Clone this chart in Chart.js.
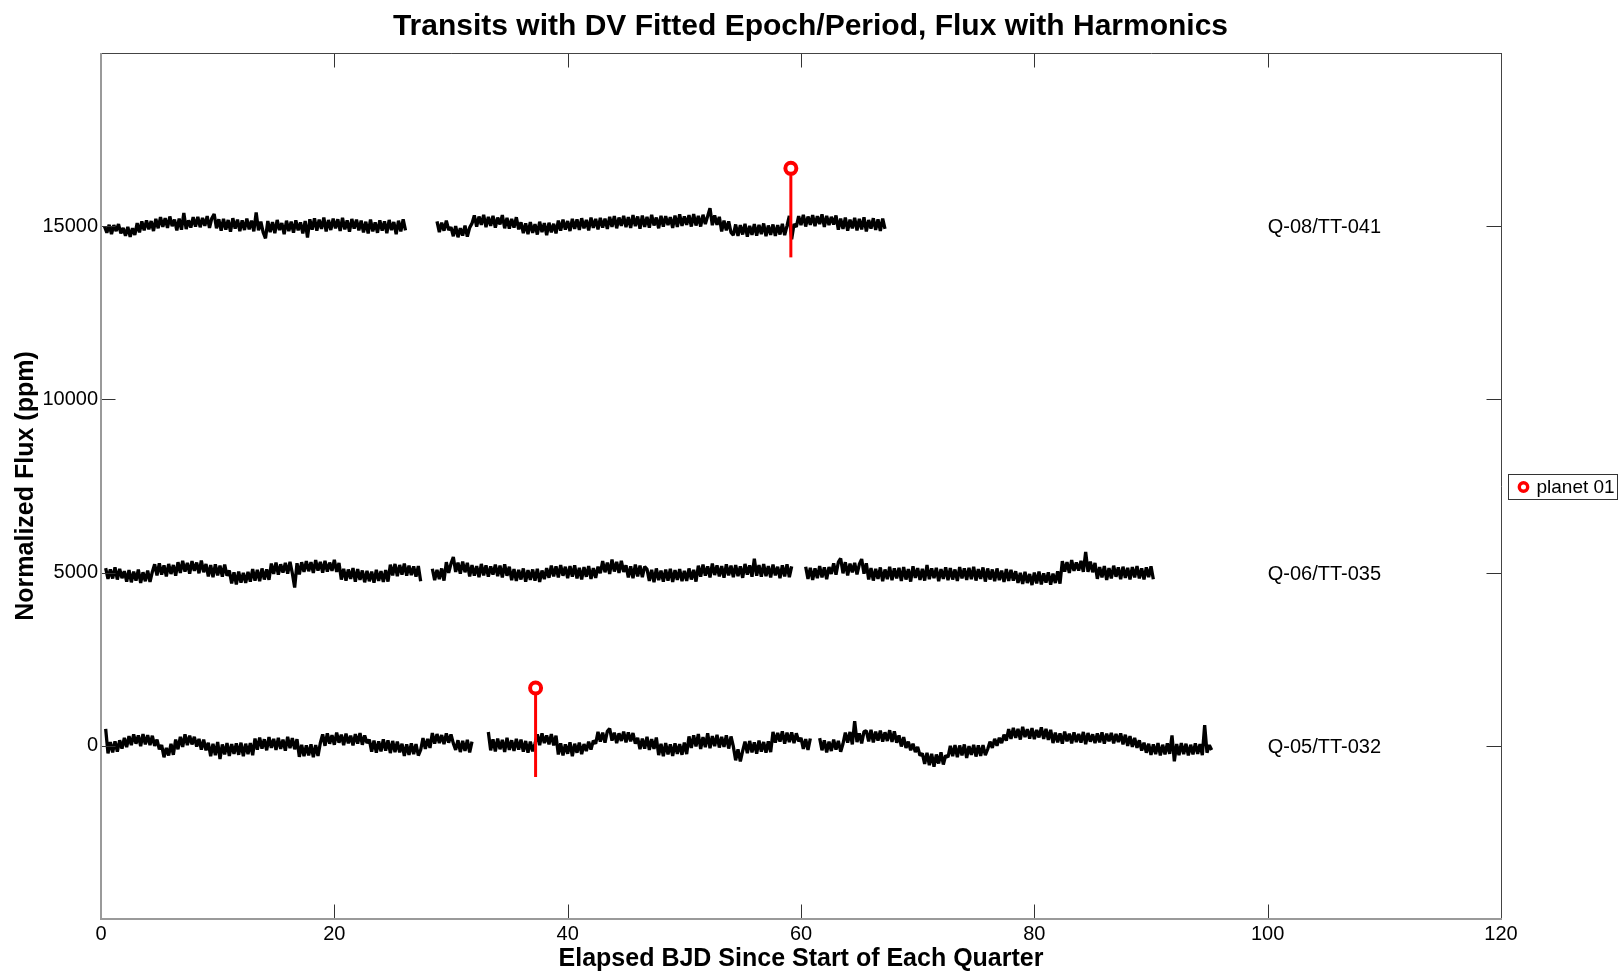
<!DOCTYPE html>
<html><head><meta charset="utf-8">
<script src="https://cdn.jsdelivr.net/npm/chart.js@4.4.1/dist/chart.umd.min.js"></script>
<style>html,body{margin:0;padding:0;background:#fff;}</style>
</head><body>
<canvas id="c" width="1621" height="973"></canvas>
<script>
// ---------------- DATA ----------------
const STEP = 0.2; // days between flux samples in the arrays below
const quarterLabels = ["Q-08/TT-041", "Q-06/TT-035", "Q-05/TT-032"];
const quarterOffsets = [15000, 5000, 0];
const xTicks = [0, 20, 40, 60, 80, 100, 120];
const yTicks = [0, 5000, 10000, 15000];

// Q-08: segment start times (days) and relative flux (ppm)
const q08Starts = [0.3, 28.8];
const q08Seg1 = [
 -10,-190,40,-230,30,-140,60,-210,-50,-280, -20,-310,-60,-250,90,-180,140,-120,170,-90,
 150,-140,210,-60,260,-20,230,-50,280,0, 190,-120,220,-100,380,-80,170,-40,260,-10,
 270,-30,240,10,290,-50,230,350,-60,200, -130,210,-100,180,-160,230,-70,190,-140,170,
 -110,220,-90,160,-150,400,-120,130,-180,-350, 150,-170,120,-200,180,-110,90,-230,160,-140,
 130,-190,170,-120,110,-210,150,-330,200,-100, 230,-130,190,-80,250,-150,180,-110,220,-60,
 200,-140,240,-90,170,-160,210,-70,190,-120, 160,-180,130,-210,190,-150,110,-190,170,-130,
 140,-200,180,-110,120,-230,160,-150,200,-120];
const q08Seg2 = [
 140,-170,100,-130,160,-110,-30,-290,0,-320, -60,-270,20,-300,-40,80,310,-10,280,40,
 330,-30,270,10,300,-40,250,50,320,-60, 240,-70,210,-40,260,-90,110,-200,80,-230,
 120,-190,60,-240,130,-170,90,-260,100,-180, 70,-210,160,-130,190,-100,150,-140,210,-80,
 200,-110,230,-60,180,-120,250,-50,210,-90, 240,-40,220,-80,270,-20,290,-60,250,10,
 300,-30,260,-50,320,0,280,-70,310,-20, 270,-40,330,20,250,-60,300,-10,290,30,
 260,-50,310,-20,340,10,280,40,320,-10, 350,20,300,-10,330,60,290,520,30,310,
 40,270,-150,160,-120,140,-180,-260,50,-280, 30,-240,70,-300,10,-250,60,-270,40,-230,
 80,-290,20,-250,50,-280,30,-240,70,-260, 10,300,-380,60,-20,290,30,330,-10,280,
 40,320,0,290,60,340,-20,300,30,270, 50,310,-100,220,-80,250,-130,190,-60,240,
 -120,210,-90,260,-150,180,-70,230,-110,200, -140,220,-80];

// Q-06
const q06Starts = [0.4, 28.4, 60.4];
const q06Seg1 = [
 130,-180,90,-170,150,-200,110,-160,40,-260, 70,-280,30,-230,90,-300,10,-250,60,-270,
 20,240,-80,270,-60,210,-110,250,-40,220, -90,300,-10,340,30,280,-30,330,50,290,
 -20,350,10,250,-110,220,-130,240,-80,200, -120,230,-90,60,-310,10,-340,30,-290,-10,
 -300,20,-260,100,-230,80,-250,120,-200,90, -210,260,-40,290,-60,240,0,280,-30,310,
 -20,-430,270,-50,300,20,330,40,300,-10, 360,60,310,0,340,30,290,50,370,20,
 280,-200,110,-230,90,-180,130,-260,100,-210, 60,-280,50,-250,30,-290,80,-240,40,-270,
 70,-260,230,-80,250,-100,220,-60,260,-90, 200,-70,180,-120,190,-250];
const q06Seg2 = [
 110,-220,80,-190,120,-230,300,-10,260,450, 20,290,-30,320,10,280,-110,220,-90,190,
 -130,250,-80,210,-120,180,-60,230,-100,200, -140,240,-90,170,-220,100,-240,80,-200,120,
 -260,70,-210,90,-230,110,-270,60,-190,130, -150,200,-110,180,-140,220,-90,170,-160,190,
 -120,210,-170,140,-200,160,-120,190,-180,130, -150,170,-20,330,10,290,-40,380,30,310,
 -10,340,20,210,-140,180,-160,230,-110,200, -130,170,100,-240,80,-280,120,-220,60,-260,
 90,-230,110,-270,70,-210,100,-250,50,-240, 120,-200,80,-260,200,-120,230,-90,180,-140,
 260,-70,210,-110,190,-150,240,-80,200,-130, 220,-100,180,-150,250,-60,210,-120,400,-90,
 220,-120,250,-100,190,-140,230,-80,170,-160, 210,-110,240,-130,180];
const q06Seg3 = [
 170,-180,140,-210,120,-160,190,-140,150,-190, 160,-40,270,-60,300,410,-20,300,-80,260,
 10,280,-50,240,390,-30,270,-200,130,-230, 110,-180,150,-250,90,-190,170,-220,120,-170,
 140,-240,160,-200,100,-260,180,-150,130,-210, 110,-230,220,-190,120,-160,140,-250,100,-180,
 150,-220,130,-200,90,-240,160,-170,120,-210, 140,-190,170,-230,100,-180,150,-260,120,-200,
 90,-250,120,-220,60,-270,100,-240,80,-230, 40,-300,-10,-330,20,-300,-40,-360,0,-310,
 30,-340,-20,-290,10,-350,-30,-300,40,-320, 330,30,300,-10,360,50,290,60,340,20,
 600,20,320,10,280,-180,160,-140,190,-210, 130,-170,200,-120,150,-190,170,-150,140,-200,
 160,-140,190,-170,120,-200,150,-130,180,-190];

// Q-05
const q05Starts = [0.4, 33.2, 61.6];
const q05Seg1 = [
 490,-220,110,-190,130,-170,160,-80,230,-40, 280,20,330,60,300,-10,340,40,310,20,
 290,0,180,-100,20,-330,-60,-280,60,-260, 180,-100,260,-30,330,20,290,40,260,-20,
 200,-110,180,-130,90,-300,60,-270,110,-380, 40,-250,80,-290,50,-230,70,-260,90,-300,
 60,-240,80,-270,210,-110,240,-80,190,-130, 250,-60,200,-120,230,-90,180,-140,260,-70,
 220,-100,190,-320,30,-300,10,-280,40,-330, 20,-290,80,330,0,360,60,310,30,380,
 90,320,20,350,70,290,10,340,60,370, 30,300,80,180,-170,150,-200,130,-160,190,
 -140,160,-210,140,-180,120,-190,60,-290,40, -260,70,-240,50,-280,-120,220,-90,200,-60,
 370,60,340,80,310,50,360,90,330,70, -120,160,-180,140,-150,170,-190,120];
const q05Seg2 = [
 400,-130,190,-160,210,-100,170,-180,230,-120, 160,-150,200,-110,180,-170,140,-200,120,-160,
 60,330,20,360,80,300,40,340,10,290, -250,70,-280,40,-230,100,-300,60,-200,90,
 -240,50,-150,120,-110,150,60,400,120,380, 90,420,500,150,380,80,360,140,410,100,
 390,130,370,60,230,-100,210,-80,260,-120, 190,-90,240,-270,60,-300,80,-250,40,-290,
 70,-230,50,-260,90,-240,270,-60,300,-20, 340,-90,250,-40,360,-70,280,-10,320,-50,
 260,-30,300,-80,270,-20,-420,-100,-450,-150, 120,-210,140,-190,100,-230,150,-170,110,-200,
 130,-180,400,90,370,120,420,60,380,110, 390,80,360,130,230,-90,190,-120,210];
const q05Seg3 = [
 220,-130,160,-190,120,-150,180,-110,140,-170, 60,380,90,400,40,710,110,360,70,410,
 430,130,460,100,410,150,440,120,390,140, 450,110,420,90,300,-20,250,-60,120,-130,
 60,-180,-30,-280,-220,-520,-200,-560,-230,-600, -250,-510,-190,-540,-280,-330,0,-300,20,-330,
 10,-280,40,-350,-10,-260,30,-310,10,-290, 20,-270,-100,120,-60,200,0,230,80,320,
 150,480,200,520,230,490,180,550,250,480, 210,510,190,460,240,530,200,490,170,460,
 80,380,100,360,60,410,130,350,70,390, 110,340,90,400,50,370,120,330,80,360,
 100,390,60,350,130,370,70,340,110,360, 40,320,0,280,-30,230,-60,160,-140,90,
 -200,60,-260,40,-240,80,-280,30,-250,70, -230,300,-450,50,-270,80,-240,60,-280,30,
 -250,70,-230,50,-270,600,-200,20,-120];

// Planet 01 transit markers (time, quarter offset, stem extent relative to offset)
const planetLabel = "planet 01";
const transitTimes = [59.13, 37.25];
const transitOffsets = [15000, 0];
const stemLow = [-900, -900];
const stemHigh = [1670, 1670];

// ---------------- BUILD ----------------
function buildSeries(starts, segs, offset) {
  const pts = [];
  segs.forEach((seg, k) => {
    if (k > 0) pts.push({x: starts[k] - STEP / 2, y: null});
    seg.forEach((v, i) => pts.push({x: +(starts[k] + i * STEP).toFixed(3), y: offset + v}));
  });
  return pts;
}
const fluxSets = [
  buildSeries(q08Starts, [q08Seg1, q08Seg2], quarterOffsets[0]),
  buildSeries(q06Starts, [q06Seg1, q06Seg2, q06Seg3], quarterOffsets[1]),
  buildSeries(q05Starts, [q05Seg1, q05Seg2, q05Seg3], quarterOffsets[2])
];

const RED = '#ff0000';
const datasets = [];
datasets.push({
  label: planetLabel,
  data: transitTimes.map((t, j) => ({x: t, y: transitOffsets[j] + stemHigh[j]})),
  showLine: false, pointRadius: 5.5, pointBorderWidth: 4,
  pointBorderColor: RED, pointBackgroundColor: '#ffffff', pointHoverRadius: 5.5
});
transitTimes.forEach((t, j) => {
  datasets.push({
    label: '_stem' + j,
    data: [{x: t, y: transitOffsets[j] + stemLow[j]}, {x: t, y: transitOffsets[j] + stemHigh[j]}],
    borderColor: RED, borderWidth: 3, pointRadius: 0, fill: false
  });
});
fluxSets.forEach((d, k) => {
  datasets.push({
    label: quarterLabels[k], data: d, borderColor: '#000000', borderWidth: 3.3,
    pointRadius: 0, spanGaps: false, tension: 0, borderJoinStyle: 'bevel', fill: false
  });
});

const FONT = "'Liberation Sans', Arial, Helvetica, sans-serif";

const decorPlugin = {
  id: 'decor',
  afterDatasetsDraw(chart) {
    const {ctx, chartArea: a, scales: {x, y}} = chart;
    ctx.save();
    ctx.strokeStyle = '#333333'; ctx.lineWidth = 1;
    const TL = 14.5;
    xTicks.forEach(v => {
      const px = Math.round(x.getPixelForValue(v)) + 0.5;
      ctx.beginPath(); ctx.moveTo(px, a.bottom); ctx.lineTo(px, a.bottom - TL); ctx.stroke();
      ctx.beginPath(); ctx.moveTo(px, a.top); ctx.lineTo(px, a.top + TL); ctx.stroke();
    });
    yTicks.forEach(v => {
      const py = Math.round(y.getPixelForValue(v)) + 0.5;
      ctx.beginPath(); ctx.moveTo(a.left, py); ctx.lineTo(a.left + TL, py); ctx.stroke();
      ctx.beginPath(); ctx.moveTo(a.right, py); ctx.lineTo(a.right - TL, py); ctx.stroke();
    });
    ctx.strokeStyle = '#444444'; ctx.lineWidth = 1;
    ctx.beginPath(); ctx.moveTo(a.left, a.top + 0.5); ctx.lineTo(a.right + 0.5, a.top + 0.5);
    ctx.lineTo(a.right + 0.5, a.bottom); ctx.stroke();
    ctx.strokeStyle = '#9a9a9a'; ctx.lineWidth = 2;
    ctx.beginPath(); ctx.moveTo(a.left, a.top); ctx.lineTo(a.left, a.bottom); ctx.lineTo(a.right + 1, a.bottom); ctx.stroke();
    ctx.restore();
  },
  afterDraw(chart) {
    const {ctx, chartArea: a, scales: {x, y}} = chart;
    ctx.save();
    ctx.fillStyle = '#000'; ctx.font = '20px ' + FONT;
    ctx.textAlign = 'left'; ctx.textBaseline = 'middle';
    quarterLabels.forEach((t, k) => {
      ctx.fillText(t, x.getPixelForValue(100), y.getPixelForValue(quarterOffsets[k]) + 1.5);
    });
    const ds = chart.data.datasets[0];
    const bx = a.right + 7.5, bw = 109, bh = 25;
    const by = Math.round((a.top + a.bottom) / 2 - bh / 2) + 0.5;
    ctx.fillStyle = '#fff'; ctx.fillRect(bx, by, bw, bh);
    ctx.strokeStyle = '#333'; ctx.lineWidth = 1; ctx.strokeRect(bx, by, bw, bh);
    ctx.beginPath(); ctx.arc(bx + 15, by + bh / 2, 4.2, 0, Math.PI * 2);
    ctx.fillStyle = ds.pointBackgroundColor; ctx.fill();
    ctx.strokeStyle = ds.pointBorderColor; ctx.lineWidth = 3.4; ctx.stroke();
    ctx.fillStyle = '#000'; ctx.font = '19px ' + FONT; ctx.textBaseline = 'middle';
    ctx.fillText(ds.label, bx + 28, by + bh / 2 + 1);
    ctx.restore();
  }
};

new Chart(document.getElementById('c'), {
  type: 'line',
  data: {datasets},
  plugins: [decorPlugin],
  options: {
    responsive: false, animation: false, events: [],
    layout: {padding: {left: 0, right: 0, top: 0, bottom: 0}},
    plugins: {
      legend: {display: false}, tooltip: {enabled: false},
      title: {display: true, text: 'Transits with DV Fitted Epoch/Period, Flux with Harmonics',
        color: '#000', font: {family: FONT, size: 30, weight: 'bold'}, padding: {top: 9, bottom: 8}}
    },
    scales: {
      x: {
        type: 'linear', min: 0, max: 120,
        afterBuildTicks: s => { s.ticks = xTicks.map(v => ({value: v})); },
        afterFit: s => { s.height = 54; },
        grid: {display: false, drawTicks: false}, border: {display: false},
        ticks: {padding: 3, color: '#000', maxRotation: 0, autoSkip: false,
          font: {family: FONT, size: 20}, callback: v => String(v)},
        title: {display: true, text: 'Elapsed BJD Since Start of Each Quarter', color: '#000',
          font: {family: FONT, size: 25, weight: 'bold', lineHeight: 1.1}, padding: {top: 0, bottom: 0}}
      },
      y: {
        type: 'linear', min: -5000, max: 20000,
        afterBuildTicks: s => { s.ticks = yTicks.map(v => ({value: v})); },
        afterFit: s => { s.width = 101; },
        grid: {display: false, drawTicks: false}, border: {display: false},
        ticks: {padding: 3, color: '#000', autoSkip: false,
          font: {family: FONT, size: 20}, callback: v => String(v)},
        title: {display: true, text: 'Normalized Flux (ppm)', color: '#000',
          font: {family: FONT, size: 25, weight: 'bold'}, padding: {top: 11, bottom: 0}}
      },
      yRight: {
        type: 'linear', position: 'right', min: 0, max: 1,
        afterFit: s => { s.width = 120; },
        grid: {display: false, drawTicks: false}, border: {display: false},
        ticks: {display: false}
      }
    }
  }
});
</script>
</body></html>
